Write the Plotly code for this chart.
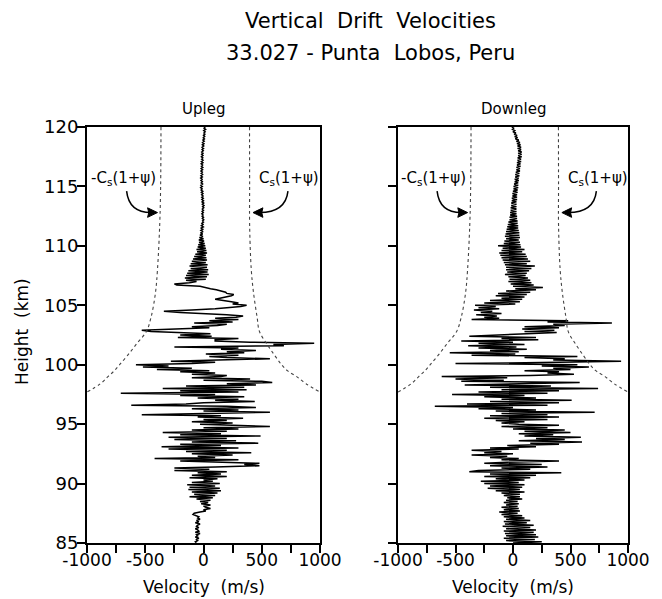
import numpy as np
import plotly.graph_objects as go

# ---------------- data ----------------
heights = np.round(np.arange(120.0, 84.95, -0.1), 1)  # sample heights (km), 0.1 km step

upleg_velocity = [
    15, 5, 18, 2, 14, 4, 12, 0, 10, -2,
    8, -5, 6, -8, 4, -10, 2, -12, 0, -12,
    -2, -15, -4, -16, -5, -18, -6, -16, -4, -18,
    -5, -20, -8, -18, -6, -20, -8, -22, -10, -20,
    -8, -22, -10, -24, -12, -22, -10, -20, -8, -22,
    -10, -24, -12, -20, -6, -18, -5, -16, -4, -15,
    -2, -14, 0, -12, 2, -10, 4, -8, 2, -10,
    0, -12, -2, -14, -4, -12, 0, -10, 2, -8,
    0, -14, -4, -18, -2, -20, -6, -22, -4, -25,
    -8, -30, -5, -35, 0, -40, 5, -38, 10, -45,
    15, -50, 20, -60, 25, -55, 30, -70, 20, -80,
    25, -90, 30, -100, 20, -110, 35, -120, 30, -110,
    40, -130, 35, -140, 45, -150, 30, -160, 20, -150,
    -60, -120, -250, -230, -30, 30, 60, 110, 150, 190,
    200, 260, 240, 180, 140, 100, 200, 240, 300, 250,
    370, 320, 200, 100, -100, -340, -200, 50, 200, 340,
    280, 100, 300, 50, 250, -80, 200, 120, -100, 50,
    -300, -530, -450, -100, 60, -200, 70, -220, 300, 100,
    100, 400, 950, 600, 690, -250, 300, 150, 450, 200,
    350, 20, 300, 50, 200, 570, 100, -280, 100, -100,
    -580, -300, -520, -100, -400, 50, -200, 100, -100, 200,
    150, -100, 400, 0, 500, 590, 200, 450, -150, 350,
    -350, 370, -200, 300, -710, 100, -200, 350, -50, 300,
    100, 440, 0, -150, -620, 200, 450, -100, 300, 0,
    570, -150, -530, 150, -50, 340, 0, 200, -100, 250,
    -30, 250, 570, 0, 300, -100, 200, -350, 150, -200,
    490, -300, 200, -250, 280, -100, 470, -200, 150, -360,
    300, -300, 200, -150, 410, -100, 250, -50, 100, -420,
    300, -200, 200, 480, 350, 480, 100, -250, 50, -250,
    200, -50, 150, -100, 200, -120, 120, 0, 80, -100,
    140, -140, 100, -120, 140, -130, 150, -100, 120, -80,
    100, -120, 80, -60, 60, -30, 40, -20, 60, 0,
    20, 60, 0, 20, -30, -80, -90, -60, -40, -50,
    -30, -60, -40, -70, -30, -50, -60, -40, -70, -50,
    -40, -70, -30, -60, -50, -70, -40, -60, -50, -70,
    -60,
]

downleg_velocity = [
    -10, 5, -5, 15, 0, 25, 10, 35, 15, 40,
    20, 50, 30, 60, 35, 65, 40, 70, 40, 70,
    45, 75, 45, 75, 45, 75, 40, 70, 40, 70,
    35, 65, 35, 65, 30, 60, 30, 60, 25, 55,
    20, 55, 20, 50, 15, 50, 15, 45, 10, 45,
    5, 45, 5, 40, 0, 40, -5, 35, -5, 35,
    -10, 35, -10, 30, -15, 30, -15, 30, -20, 30,
    -20, 30, -25, 30, -25, 35, -30, 35, -30, 40,
    -40, 40, -45, 45, -50, 45, -55, 50, -60, 55,
    -65, 55, -70, 60, -60, 50, -75, 60, -80, 65,
    -130, 70, -90, 100, -100, 80, -120, 110, -110, 120,
    -100, 130, -90, 150, -80, 120, -70, 190, -60, 160,
    -60, 140, -50, 120, -70, 110, -40, 130, -30, 150,
    -40, 160, -20, 180, 0, 260, 20, 200, -60, 150,
    -130, 120, -150, 100, -100, 80, -200, 60, -250, 20,
    -330, -150, -300, -120, -340, -180, -280, -100, -320, -140,
    -250, -120, -360, 480, 300, 860, 350, 450, 100, 400,
    80, 360, 100, 380, 120, -190, -380, 200, -100, 220,
    -450, 0, -300, 100, -390, 30, -300, 120, -200, 50,
    -550, 20, -360, 560, 100, 450, 350, 940, 400, -500,
    560, 250, 660, 350, 500, 100, 400, 300, 530, 150,
    -620, -50, -500, -80, -450, 580, -100, -420, 330, -200,
    740, -100, 400, -300, 300, -530, 100, -250, 200, -100,
    510, -200, 400, -400, 300, -680, 0, -300, 200, -150,
    710, -100, 300, -200, 400, -250, 300, -150, 100, -100,
    50, 400, -100, 300, 0, 450, 100, 500, 50, 350,
    100, 590, 200, 450, 50, 600, 150, 400, -50, 200,
    -200, 50, -360, -100, -250, 0, -360, -50, -200, 50,
    -100, 400, -50, -250, 250, -200, 300, -100, 150, -300,
    -380, 420, -200, 200, -250, 150, -150, 100, -280, 50,
    -250, 100, -200, 80, -220, 60, -150, 100, -100, 60,
    -80, 60, -50, 80, -60, 40, -80, 50, -60, 40,
    -100, 50, -80, 60, -120, 40, -100, 80, -80, 100,
    -60, 150, -80, 120, -70, 180, -90, 150, -60, 200,
    -80, 180, -70, 200, -60, 220, -80, 190, -60, 250,
    0,
]

# boundary  +/- Cs(1+psi)
bound_height = [120, 115, 111.75, 108, 106, 104, 102.8, 101.8, 100.8, 100, 99.5, 99, 98.4, 97.7]
bound_left = [-365, -368, -376, -395, -413, -450, -490, -571, -650, -720, -765, -820, -885, -1000]
bound_right = [395, 396, 396, 410, 430, 460, 480, 540, 610, 670, 720, 800, 880, 1000]

x_tickvals = [-1000, -500, 0, 500, 1000]
x_ticktext = ["-1000", "-500", "0", "500", "1000"]
x_minor_tickvals = [-750, -250, 250, 750]
y_tickvals = [85, 90, 95, 100, 105, 110, 115, 120]
y_ticktext = ["85", "90", "95", "100", "105", "110", "115", "120"]

panel_titles = ["Upleg", "Downleg"]

assert len(upleg_velocity) == len(heights) and len(downleg_velocity) == len(heights)

# ---------------- figure ----------------
# the page body has an 8px margin, so the figure is 8px smaller and shifted
OFF = 8
W, H = 662 - OFF, 599 - OFF
FONT = "DejaVu Sans"


def fx(px):
    return (px - OFF) / W


def fy(py):
    return 1 - (py - OFF) / H


fig = go.Figure()

panels = [("x", "y", upleg_velocity), ("x2", "y2", downleg_velocity)]
for xa, ya, vel in panels:
    fig.add_trace(go.Scatter(x=vel, y=heights, mode="lines", xaxis=xa, yaxis=ya,
                             line=dict(color="black", width=1.5), showlegend=False,
                             hoverinfo="skip"))
    fig.add_trace(go.Scatter(x=bound_left, y=bound_height, mode="lines", xaxis=xa, yaxis=ya,
                             line=dict(color="#444", width=1.1, dash="dot", shape="spline"),
                             showlegend=False, hoverinfo="skip"))
    fig.add_trace(go.Scatter(x=bound_right, y=bound_height, mode="lines", xaxis=xa, yaxis=ya,
                             line=dict(color="#444", width=1.1, dash="dot", shape="spline"),
                             showlegend=False, hoverinfo="skip"))

dom_y = [fy(543), fy(127)]
axis_common = dict(showgrid=False, zeroline=False, showline=True, mirror=True,
                   linecolor="black", linewidth=2, ticks="outside", ticklen=8,
                   tickwidth=2, tickcolor="black", automargin=False)
x_minor = dict(tickvals=x_minor_tickvals, ticks="outside", ticklen=8, tickwidth=2,
               tickcolor="black", showgrid=False)

fig.update_layout(
    width=W, height=H, margin=dict(l=0, r=0, t=0, b=0, autoexpand=False),
    paper_bgcolor="white", plot_bgcolor="white",
    xaxis=dict(domain=[fx(87), fx(320)], range=[-1000, 1000], anchor="y",
               tickvals=x_tickvals, ticktext=x_ticktext, ticklabelstandoff=-7,
               minor=x_minor,
               tickfont=dict(family=FONT, size=17, color="black"), **axis_common),
    yaxis=dict(domain=dom_y, range=[85, 120], anchor="x",
               tickvals=y_tickvals, ticktext=y_ticktext, ticklabelstandoff=-5,
               tickfont=dict(family=FONT, size=18, color="black"), **axis_common),
    xaxis2=dict(domain=[fx(398), fx(628)], range=[-1000, 1000], anchor="y2",
                tickvals=x_tickvals, ticktext=x_ticktext, ticklabelstandoff=-7,
                minor=x_minor,
                tickfont=dict(family=FONT, size=17, color="black"), **axis_common),
    yaxis2=dict(domain=dom_y, range=[85, 120], anchor="x2",
                tickvals=y_tickvals, showticklabels=False, **axis_common),
)

# titles
fig.add_annotation(text="Vertical  Drift  Velocities", xref="paper", yref="paper",
                   x=fx(370), y=fy(21), showarrow=False,
                   font=dict(family=FONT, size=21, color="black"), yanchor="middle")
fig.add_annotation(text="33.027 - Punta  Lobos, Peru", xref="paper", yref="paper",
                   x=fx(370), y=fy(53), showarrow=False,
                   font=dict(family=FONT, size=21, color="black"), yanchor="middle")

# axis titles
fig.add_annotation(text="Height  (km)", xref="paper", yref="paper", x=fx(22), y=fy(332),
                   textangle=-90, showarrow=False, xanchor="center", yanchor="middle",
                   font=dict(family=FONT, size=17, color="black"))

for (xa, ya, _), title in zip(panels, panel_titles):
    xr = xa + " domain"
    fig.add_annotation(text=title, xref=xr, yref="paper", x=0.5, y=fy(109),
                       showarrow=False, yanchor="middle",
                       font=dict(family=FONT, size=15, color="black"))
    fig.add_annotation(text="Velocity  (m/s)", xref=xr, yref="paper", x=0.5, y=fy(587),
                       showarrow=False, yanchor="middle",
                       font=dict(family=FONT, size=17, color="black"))
    # labels
    fig.add_annotation(text="-C<sub>s</sub>(1+ψ)", xref=xa, yref=ya, x=-690, y=115.7,
                       showarrow=False, font=dict(family=FONT, size=15, color="black"))
    fig.add_annotation(text="C<sub>s</sub>(1+ψ)", xref=xa, yref=ya, x=735, y=115.7,
                       showarrow=False, font=dict(family=FONT, size=15, color="black"))
    # curved arrows
    fig.add_shape(type="path", xref=xa, yref=ya,
                  path="M -660,114.6 Q -640,112.8 -450,112.8",
                  line=dict(color="black", width=1.5))
    fig.add_shape(type="path", xref=xa, yref=ya,
                  path="M 725,114.6 Q 705,112.8 480,112.8",
                  line=dict(color="black", width=1.5))
    # arrowheads
    fig.add_shape(type="path", xref=xa, yref=ya,
                  path="M -395,112.8 L -480,113.2 L -470,112.8 L -480,112.4 Z",
                  line=dict(color="black", width=1), fillcolor="black")
    fig.add_shape(type="path", xref=xa, yref=ya,
                  path="M 425,112.8 L 510,113.2 L 500,112.8 L 510,112.4 Z",
                  line=dict(color="black", width=1), fillcolor="black")

fig.write_html("out.html")
